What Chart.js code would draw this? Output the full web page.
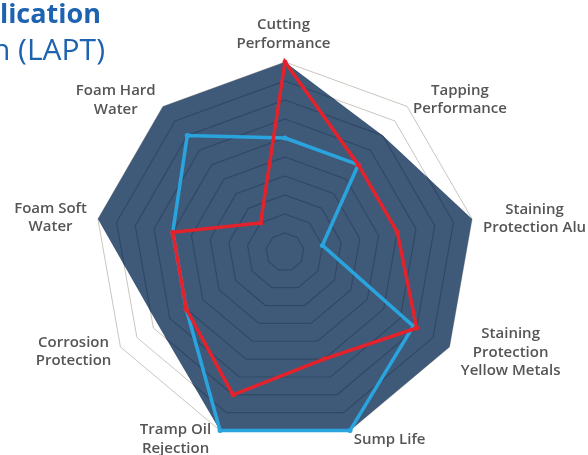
<!DOCTYPE html>
<html><head><meta charset="utf-8">
<script src="https://cdn.jsdelivr.net/npm/chart.js@4.4.1/dist/chart.umd.min.js"></script>
<style>
html,body{margin:0;padding:0;background:#fff;}
#wrap{position:relative;width:588px;height:455px;overflow:hidden;}
canvas{position:absolute;left:0;top:0;}
.t{position:absolute;white-space:nowrap;color:#1d63b0;font-family:"Open Sans",sans-serif;text-align:right;line-height:1.2;}
</style></head><body>
<div id="wrap">
<canvas id="c" width="588" height="455"></canvas>
<div class="t" id="t1" style="right:487px;top:-3px;font-size:27px;font-weight:700;">Application</div>
<div class="t" id="t2" style="right:483px;top:31px;font-size:30px;font-weight:500;">Evaluation (LAPT)</div>
</div>
<script>
// ---- data ----
const categories = [
  ['Cutting', 'Performance'],
  ['Tapping', 'Performance'],
  ['Staining', 'Protection Alu'],
  ['Staining', 'Protection', 'Yellow Metals'],
  ['Sump Life'],
  ['Tramp Oil', 'Rejection'],
  ['Corrosion', 'Protection'],
  ['Foam Soft', 'Water'],
  ['Foam Hard', 'Water']
];
const redSeries = [10, 6, 6, 8, 6, 8, 6, 6, 2];
const blueSeries = [6, 6, 2, 7.8, 10, 10, 6, 6, 8];
const envelopeSeries = [10, 8, 10, 10, 10, 10, 7.7, 10, 10];
const scaleMin = 0, scaleMax = 10, scaleStep = 1;

// ---- label placement (relative to the radial scale) ----
const labelDistance = [1.145, 1.22, 1.325, 1.30, 1.132, 1.142, 1.23, 1.247, 1.197];
const labelTurnDeg = [-0.4, 9, 2.4, -6, -9.1, 10.3, 4.8, -1.7, -8.1];

const FILL = 'rgb(63,90,121)';
const INNER_RING = 'rgb(48,72,101)';
const OUTER_RING = 'rgb(203,197,191)';

const innerRings = {
  id: 'innerRings',
  afterDatasetDraw(chart, args) {
    if (args.index !== 2) return;
    const s = chart.scales.r, ctx = chart.ctx, pts = args.meta.data;
    ctx.save();
    ctx.beginPath();
    pts.forEach((p, i) => i ? ctx.lineTo(p.x, p.y) : ctx.moveTo(p.x, p.y));
    ctx.closePath();
    ctx.clip();
    ctx.strokeStyle = INNER_RING;
    ctx.lineWidth = 1.2;
    s.ticks.forEach(t => {
      if (t.value <= scaleMin || t.value >= scaleMax) return;
      ctx.beginPath();
      for (let i = 0; i < categories.length; i++) {
        const p = s.getPointPositionForValue(i, t.value);
        i ? ctx.lineTo(p.x, p.y) : ctx.moveTo(p.x, p.y);
      }
      ctx.closePath();
      ctx.stroke();
    });
    ctx.restore();
  },
  afterDraw(chart) {
    const s = chart.scales.r, ctx = chart.ctx;
    ctx.save();
    ctx.font = '600 15px "Open Sans", sans-serif';
    ctx.fillStyle = '#555555';
    ctx.textAlign = 'center';
    ctx.textBaseline = 'middle';
    const lh = 18.5;
    chart.data.labels.forEach((lines, i) => {
      const p = s.getPointPosition(i, s.drawingArea * labelDistance[i], labelTurnDeg[i] * Math.PI / 180);
      const arr = [].concat(lines);
      arr.forEach((ln, k) => ctx.fillText(ln, p.x, p.y + (k - (arr.length - 1) / 2) * lh));
    });
    ctx.restore();
  }
};

new Chart(document.getElementById('c'), {
  type: 'radar',
  data: {
    labels: categories,
    datasets: [
      { label: 'Red', data: redSeries, borderColor: '#e3222b', backgroundColor: '#e3222b',
        borderWidth: 3.5, pointRadius: 2.5, pointBorderWidth: 0, pointBackgroundColor: '#e3222b', fill: false },
      { label: 'Blue', data: blueSeries, borderColor: '#2aa4de', backgroundColor: '#2aa4de',
        borderWidth: 3.5, pointRadius: 2.5, pointBorderWidth: 0, pointBackgroundColor: '#2aa4de', fill: false },
      { label: 'Envelope', data: envelopeSeries, borderColor: FILL, backgroundColor: FILL,
        borderWidth: 0, pointRadius: 0, fill: true }
    ]
  },
  options: {
    responsive: false,
    devicePixelRatio: 1,
    animation: false,
    layout: { padding: { left: 95, right: 113, top: 62, bottom: 13 } },
    elements: { line: { tension: 0 } },
    plugins: { legend: { display: false }, tooltip: { enabled: false } },
    scales: {
      r: {
        min: scaleMin, max: scaleMax,
        ticks: { display: false, stepSize: scaleStep },
        grid: { color: OUTER_RING, lineWidth: 1 },
        angleLines: { display: false },
        pointLabels: { display: false }
      }
    }
  },
  plugins: [innerRings]
});
</script>
</body></html>
